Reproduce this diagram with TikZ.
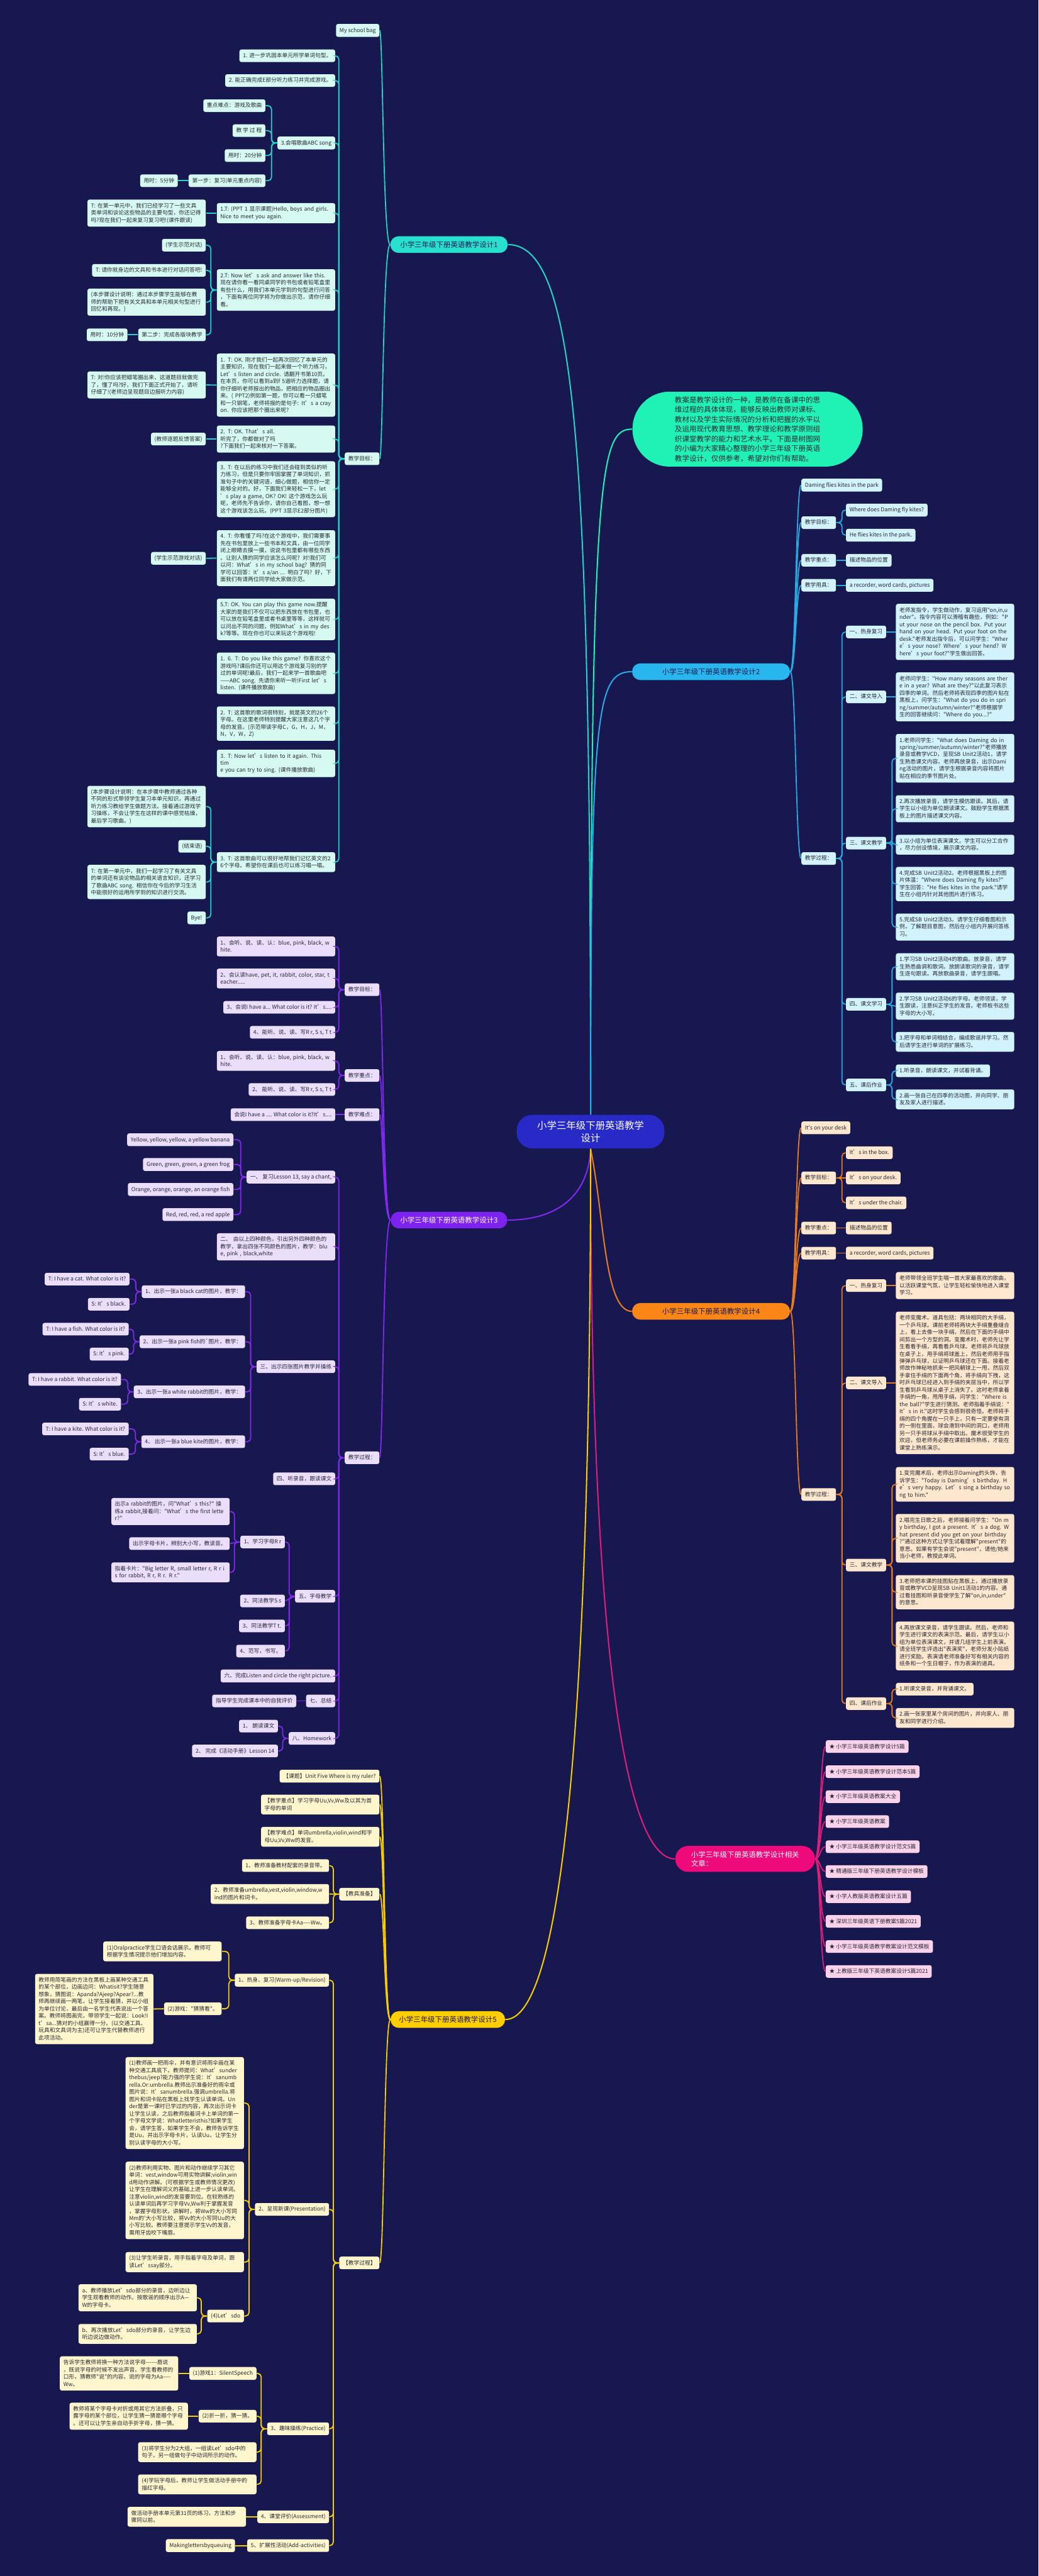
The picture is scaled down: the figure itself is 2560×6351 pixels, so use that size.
\documentclass[tikz,border=0pt]{standalone}
\usepackage{fontspec}
\newfontfamily\cjk{Noto Sans CJK SC}
\usetikzlibrary{positioning}
\definecolor{bgnavy}{RGB}{23,24,80}
\definecolor{rootblue}{RGB}{40,42,200}
\definecolor{txtdark}{RGB}{40,40,52}
\definecolor{tealnode}{RGB}{40,224,206}
\definecolor{tealleaf}{RGB}{214,250,242}
\definecolor{tealline}{RGB}{38,210,196}
\definecolor{mintnode}{RGB}{32,242,182}
\definecolor{bluenode}{RGB}{40,182,238}
\definecolor{blueleaf}{RGB}{210,243,252}
\definecolor{blueline}{RGB}{40,170,226}
\definecolor{purpnode}{RGB}{126,34,240}
\definecolor{purpleaf}{RGB}{234,222,252}
\definecolor{purpline}{RGB}{130,42,236}
\definecolor{orgnode}{RGB}{250,134,24}
\definecolor{orgleaf}{RGB}{253,231,206}
\definecolor{orgline}{RGB}{232,122,32}
\definecolor{pinknode}{RGB}{238,10,122}
\definecolor{pinkleaf}{RGB}{250,210,234}
\definecolor{pinkline}{RGB}{222,30,124}
\definecolor{ylwnode}{RGB}{255,206,0}
\definecolor{ylwleaf}{RGB}{255,246,206}
\definecolor{ylwline}{RGB}{246,206,0}
\newcommand\leaffont{\cjk\fontsize{3.85pt}{5.06pt}\selectfont}
\newcommand\branchfont{\cjk\fontsize{5.05pt}{6.3pt}\selectfont}
\newcommand\rootfont{\cjk\fontsize{6.8pt}{8.6pt}\selectfont}
\newcommand\introfont{\cjk\fontsize{5.1pt}{6.83pt}\selectfont}
\newcommand\lstrut{\rule[-0.74pt]{0pt}{4.1pt}}
\newcommand\elbowL[3]{\draw[#1] (#2.west) -- ++(-14,0) |- (#3.east);}
\newcommand\elbowR[3]{\draw[#1] (#2.east) -- ++(14,0) |- (#3.west);}
\newcommand\straightL[3]{\draw[#1] (#2.west) -- (#3.east);}
\newcommand\straightR[3]{\draw[#1] (#2.east) -- (#3.west);}
\newcommand\curveL[4]{\draw[#1] (#2.west) .. controls (#2.west -| #4) and (#3.east -| #4) .. (#3.east);}
\newcommand\curveR[4]{\draw[#1] (#2.east) .. controls (#2.east -| #4) and (#3.west -| #4) .. (#3.west);}
\tikzset{
  leaf/.style={rectangle, rounded corners=1.4pt, inner xsep=2.5pt, inner ysep=2.36pt,
               font=\leaffont, text=txtdark,
               execute at begin node=\lstrut, execute at end node=\lstrut},
  wide/.style={text width=2.74cm, align=left},
  lf1/.style={leaf, fill=tealleaf},
  lf2/.style={leaf, fill=blueleaf},
  lf3/.style={leaf, fill=purpleaf},
  lf4/.style={leaf, fill=orgleaf},
  lf5/.style={leaf, fill=ylwleaf},
  lf6/.style={leaf, fill=pinkleaf},
  wire/.style={line width=0.8pt, rounded corners=2.5pt},
  ln1/.style={wire, draw=tealline},
  ln2/.style={wire, draw=blueline},
  ln3/.style={wire, draw=purpline},
  ln4/.style={wire, draw=orgline},
  ln5/.style={wire, draw=ylwline},
  ln6/.style={wire, draw=pinkline},
  lnm/.style={wire, draw=mintnode},
  branch/.style={rectangle, rounded corners=5.7pt, minimum height=0.41cm,
                 inner sep=0pt, font=\branchfont},
  rootbox/.style={rectangle, rounded corners=11pt, fill=rootblue, text=white,
                  font=\rootfont, align=center, minimum width=3.64cm, minimum height=0.83cm},
  introbox/.style={rectangle, rounded corners=26pt, fill=mintnode, text=txtdark,
                   font=\introfont, align=left, minimum width=5.67cm, minimum height=1.83cm},
  pinkbox/.style={rectangle, rounded corners=9pt, fill=pinknode, text=white,
                  font=\branchfont, align=left, minimum width=3.44cm, minimum height=0.64cm},
}
\begin{document}
\begin{tikzpicture}[x=0.01cm, y=-0.01cm]
\fill[bgnavy] (0,0) rectangle (2560,6351);
\useasboundingbox (0,0) rectangle (2560,6351);
\coordinate (tl) at (944,0);
\coordinate (ty) at (947,0);
\coordinate (tr) at (1962,0);
\coordinate (tp) at (2022,0);

% root and main branches
\node[rootbox] (root) at (1456,2790) {小学三年级下册英语教学\\设计};
\node[introbox] (intro) at (1843,1058) {教案是教学设计的一种，是教师在备课中的思\\维过程的具体体现，能够反映出教师对课标、\\教材以及学生实际情况的分析和把握的水平以\\及运用现代教育思想、教学理论和教学原则组\\织课堂教学的能力和艺术水平。下面是树图网\\的小编为大家精心整理的小学三年级下册英语\\教学设计，仅供参考，希望对你们有帮助。};
\node[branch, fill=tealnode, text=bgnavy, minimum width=2.89cm] (b1) at (1107,603) {小学三年级下册英语教学设计1};
\node[branch, fill=bluenode, text=bgnavy, minimum width=3.89cm] (b2) at (1753,1656) {小学三年级下册英语教学设计2};
\node[branch, fill=purpnode, text=white, minimum width=2.87cm] (b3) at (1107,3008) {小学三年级下册英语教学设计3};
\node[branch, fill=orgnode, text=bgnavy, minimum width=3.89cm] (b4) at (1753,3233) {小学三年级下册英语教学设计4};
\node[branch, fill=ylwnode, text=bgnavy, minimum width=2.82cm] (b5) at (1104,4979) {小学三年级下册英语教学设计5};
\node[pinkbox] (pk) at (1837,4583) {小学三年级下册英语教学设计相关\\文章：};

\draw[ln1, line width=0.9pt] (root.north) .. controls (1456,1100) and (1420,603) .. (b1.east);
\draw[lnm, line width=0.9pt] (root.north) .. controls (1456,1150) and (1480,1058) .. (intro.west);
\draw[ln2, line width=0.9pt] (root.north) .. controls (1456,1750) and (1470,1656) .. (b2.west);
\draw[ln3, line width=0.9pt] (root.south) .. controls (1450,2960) and (1360,3008) .. (b3.east);
\draw[ln4, line width=0.9pt] (root.south) .. controls (1490,3000) and (1490,3233) .. (b4.west);
\draw[ln6, line width=0.9pt] (root.south) .. controls (1456,4200) and (1560,4583) .. (pk.west);
\draw[ln5, line width=0.9pt] (root.south) .. controls (1456,4300) and (1380,4979) .. (b5.east);

% branch 1
\node[lf1, anchor=east] (bag) at (936,75) {My school bag};
\node[lf1, anchor=east] (aim1) at (936,1131) {教学目标：};
\node[lf1, anchor=east] (g1) at (827,137.5) {1. 进一步巩固本单元所学单词句型。};
\node[lf1, anchor=east] (g2) at (827,198.5) {2. 能正确完成E部分听力练习并完成游戏。};
\node[lf1, anchor=east] (g3) at (827,352.5) {3.会唱歌曲ABC song};
\node[lf1, anchor=east] (g31) at (655,260.5) {重点难点：游戏及歌曲};
\node[lf1, anchor=east] (g32) at (655,322) {教 学 过 程};
\node[lf1, anchor=east] (g33) at (655,383.5) {用时：20分钟};
\node[lf1, anchor=east] (g34) at (655,445.5) {第一步：复习(单元重点内容)};
\node[lf1, anchor=east] (g341) at (439,445.5) {用时：5分钟};
\node[lf1, wide, anchor=east] (g4) at (827,525.5) {1.T: (PPT 1 显示课题)Hello, boys and girls.\\Nice to meet you again.};
\node[lf1, wide, anchor=east] (g41) at (508,525.5) {T: 在第一单元中，我们已经学习了一些文具\\类单词和谈论这些物品的主要句型，你还记得\\吗?现在我们一起来复习复习吧!(课件跟读)};
\node[lf1, wide, anchor=east] (g5) at (827,715) {2.T: Now let’s ask and answer like this.\\现在请你看一看同桌同学的书包或者铅笔盒里\\有些什么，用我们本单元学到的句型进行问答\\，下面有两位同学将为你做出示范，请你仔细\\看。};
\node[lf1, anchor=east] (g51) at (508,604.5) {(学生示范对话)};
\node[lf1, anchor=east] (g52) at (508,666.5) {T: 请你就身边的文具和书本进行对话问答吧!};
\node[lf1, wide, anchor=east] (g53) at (508,745) {(本步骤设计说明：通过本步骤学生能够在教\\师的帮助下把有关文具和本单元相关句型进行\\回忆和再现。)};
\node[lf1, anchor=east] (g54) at (508,825.5) {第二步：完成各版块教学};
\node[lf1, anchor=east] (g541) at (315,825.5) {用时：10分钟};
\node[lf1, wide, anchor=east] (g6) at (827,949.5) {1. T: OK. 刚才我们一起再次回忆了本单元的\\主要知识，现在我们一起来做一个听力练习，\\Let’s listen and circle. 请翻开书第10页。\\在本页，你可以看到a到f 5道听力选择题，请\\你仔细听老师报出的物品，把相应的物品圈出\\来。( PPT2)例如第一题，你可以看一只蜡笔\\和一只钢笔，老师将报的是句子: It’s a cray\\on. 你应该把那个圈出来呢?};
\node[lf1, wide, anchor=east] (g61) at (508,949) {T: 对!你应该把蜡笔圈出来，这道题目就做完\\了，懂了吗?好，我们下面正式开始了，请听\\仔细了!(老师边呈现题目边报听力内容)};
\node[lf1, wide, anchor=east] (g7) at (827,1082.5) {2. T: OK. That’s all. 听完了，你都做对了吗\\?下面我们一起来核对一下答案。};
\node[lf1, anchor=east] (g71) at (508,1082.5) {(教师逐题反馈答案)};
\node[lf1, wide, anchor=east] (g8) at (827,1206) {3. T: 在以后的练习中我们还会碰到类似的听\\力练习，但是只要你牢固掌握了单词知识，抓\\准句子中的关键词语，细心做题，相信你一定\\能够全对的。好，下面我们来轻松一下，let\\’s play a game, OK? OK! 这个游戏怎么玩\\呢，老师先不告诉你，请你自己看图，想一想\\这个游戏该怎么玩。(PPT 3显示E2部分图片)};
\node[lf1, wide, anchor=east] (g9) at (827,1376) {4. T: 你看懂了吗?在这个游戏中，我们需要事\\先在书包里放上一些书本和文具，由一位同学\\闭上眼睛去摸一摸，说说书包里都有哪些东西\\。让别人猜的同学应该怎么问呢? 对!我们可\\以问：What’s in my school bag? 猜的同\\学可以回答：It’s a/an ... 明白了吗? 好，下\\面我们有请两位同学给大家做示范。};
\node[lf1, anchor=east] (g91) at (508,1376.5) {(学生示范游戏对话)};
\node[lf1, wide, anchor=east] (g10) at (827,1527) {5.T: OK. You can play this game now.提醒\\大家的是我们不仅可以把东西放在书包里，也\\可以放在铅笔盒里或者书桌里等等，这样就可\\以问出不同的问题，例如What’s in my des\\k?等等。现在你也可以来玩这个游戏啦!};
\node[lf1, wide, anchor=east] (g11) at (827,1660) {1. 6. T: Do you like this game? 你喜欢这个\\游戏吗?课后你还可以用这个游戏复习别的学\\过的单词呢!最后，我们一起来学一首歌曲吧\\——ABC song. 先请你来听一听!First let’s\\listen. (课件播放歌曲)};
\node[lf1, wide, anchor=east] (g12) at (827,1784) {2. T: 这首歌的歌词很特别，就是英文的26个\\字母。在这里老师特别提醒大家注意这几个字\\母的发音。(示范带读字母C，G，H，J，M，\\ N，V，W，Z)};
\node[lf1, wide, anchor=east] (g13) at (827,1882) {3. T: Now let’s listen to it again. This tim\\e you can try to sing. (课件播放歌曲)};
\node[lf1, wide, anchor=east] (g14) at (827,2125.5) {3. T: 这首歌曲可以很好地帮我们记忆英文的2\\6个字母。希望你在课后也可以练习唱一唱。};
\node[lf1, wide, anchor=east] (g141) at (508,1988.5) {(本步骤设计说明：在本步骤中教师通过各种\\不同的形式带领学生复习本单元知识，再通过\\听力练习教给学生做题方法。接着通过游戏学\\习操练，不会让学生在这样的课中感觉枯燥，\\最后学习歌曲。)};
\node[lf1, anchor=east] (g142) at (508,2086.5) {(结束语)};
\node[lf1, wide, anchor=east] (g143) at (508,2174.5) {T: 在第一单元中，我们一起学习了有关文具\\的单词还有谈论物品的相关语言知识，还学习\\了歌曲ABC song. 相信你在今后的学习生活\\中能很好的运用所学到的知识进行交流。};
\node[lf1, anchor=east] (g144) at (508,2263) {Bye!};

\curveL{ln1}{b1}{bag}{tl}
\curveL{ln1}{b1}{aim1}{tl}
\foreach \c in {g1,g2,g3,g4,g5,g6,g7,g8,g9,g10,g11,g12,g13,g14} {\elbowL{ln1}{aim1}{\c}}
\foreach \c in {g31,g32,g33,g34} {\elbowL{ln1}{g3}{\c}}
\straightL{ln1}{g34}{g341}
\straightL{ln1}{g4}{g41}
\foreach \c in {g51,g52,g53,g54} {\elbowL{ln1}{g5}{\c}}
\straightL{ln1}{g54}{g541}
\straightL{ln1}{g6}{g61}
\straightL{ln1}{g7}{g71}
\straightL{ln1}{g9}{g91}
\foreach \c in {g141,g142,g143,g144} {\elbowL{ln1}{g14}{\c}}

% branch 3
\node[lf3, anchor=east] (aim3) at (936,2440) {教学目标：};
\node[lf3, wide, anchor=east] (p1) at (827,2333.5) {1、会听、说、读、认：blue, pink, black, w\\hite.};
\node[lf3, wide, anchor=east] (p2) at (827,2412.5) {2、会认读have, pet, it, rabbit, color, star, t\\eacher.....};
\node[lf3, anchor=east] (p3) at (827,2483.5) {3、会说I have a... What color is it? It’s....};
\node[lf3, anchor=east] (p4) at (827,2545) {4、能听、说、读、写R r, S s, T t};
\node[lf3, anchor=east] (key3) at (936,2651.5) {教学重点：};
\node[lf3, wide, anchor=east] (k1) at (827,2615.5) {1、会听、说、读、认：blue, pink, black, w\\hite.};
\node[lf3, anchor=east] (k2) at (827,2686) {2、 能听、说、读、写R r, S s, T t};
\node[lf3, anchor=east] (hard3) at (936,2748) {教学难点：};
\node[lf3, anchor=east] (h1) at (827,2748) {会说I have a .... What color is it?It’s....};
\node[lf3, anchor=east] (proc3) at (936,3594) {教学过程：};
\node[lf3, anchor=east] (s1) at (827,2902) {一、 复习Lesson 13, say a chant,};
\node[lf3, anchor=east] (s11) at (576,2810) {Yellow, yellow, yellow, a yellow banana};
\node[lf3, anchor=east] (s12) at (576,2871) {Green, green, green, a green frog};
\node[lf3, anchor=east] (s13) at (576,2932.5) {Orange, orange, orange, an orange fish};
\node[lf3, anchor=east] (s14) at (576,2994.5) {Red, red, red, a red apple};
\node[lf3, wide, anchor=east] (s2) at (827,3074) {二、 由以上四种颜色，引出另外四种颜色的\\教学，拿出四张不同颜色的图片，教学：blu\\e, pink , black,white};
\node[lf3, anchor=east] (s3) at (827,3369.5) {三、出示四张图片教学并操练};
\node[lf3, anchor=east] (s31) at (605,3184.5) {1、出示一张a black cat的图片，教学：};
\node[lf3, anchor=east] (s311) at (320,3153.5) {T: I have a cat. What color is it?};
\node[lf3, anchor=east] (s312) at (320,3215.5) {S: It’s black.};
\node[lf3, anchor=east] (s32) at (605,3308) {2、出示一张a pink fish的`图片，教学：};
\node[lf3, anchor=east] (s321) at (318,3277) {T: I have a fish. What color is it?};
\node[lf3, anchor=east] (s322) at (318,3338.5) {S: It’s pink.};
\node[lf3, anchor=east] (s33) at (605,3431.5) {3、出示一张a white rabbit的图片，教学：};
\node[lf3, anchor=east] (s331) at (299,3401) {T: I have a rabbit. What color is it?};
\node[lf3, anchor=east] (s332) at (299,3462) {S: It’s white.};
\node[lf3, anchor=east] (s34) at (605,3554.5) {4、 出示一张a blue kite的图片，教学：};
\node[lf3, anchor=east] (s341) at (318,3523) {T: I have a kite. What color is it?};
\node[lf3, anchor=east] (s342) at (318,3585) {S: It’s blue.};
\node[lf3, anchor=east] (s4) at (827,3646) {四、听录音，跟读课文};
\node[lf3, anchor=east] (s5) at (827,3935.5) {五、字母教学};
\node[lf3, anchor=east] (s51) at (703,3801.5) {1、学习字母R r};
\node[lf3, wide, anchor=east] (s511) at (567,3726.5) {出示a rabbit的图片，问"What’s this?" 操\\练a rabbit,接着问："What’s the first lette\\r?"};
\node[lf3, anchor=east] (s512) at (567,3805.5) {出示字母卡片，辨别大小写，教读音。};
\node[lf3, wide, anchor=east] (s513) at (567,3876.5) {指着卡片："Big letter R, small letter r, R r i\\s for rabbit, R r, R r. R r."};
\node[lf3, anchor=east] (s52) at (703,3947) {2、同法教学S s};
\node[lf3, anchor=east] (s53) at (703,4008.5) {3、同法教学T t.};
\node[lf3, anchor=east] (s54) at (703,4070.5) {4、范写，书写。};
\node[lf3, anchor=east] (s6) at (827,4132) {六、完成Listen and circle the right picture.};
\node[lf3, anchor=east] (s7) at (827,4193.5) {七、总结};
\node[lf3, anchor=east] (s71) at (731,4193.5) {指导学生完成课本中的自我评价};
\node[lf3, anchor=east] (s8) at (827,4286) {八、Homework};
\node[lf3, anchor=east] (s81) at (686,4255.5) {1、 朗读课文};
\node[lf3, anchor=east] (s82) at (686,4317) {2、 完成《活动手册》Lesson 14};

\foreach \c in {aim3,key3,hard3,proc3} {\curveL{ln3}{b3}{\c}{tl}}
\foreach \c in {p1,p2,p3,p4} {\elbowL{ln3}{aim3}{\c}}
\foreach \c in {k1,k2} {\elbowL{ln3}{key3}{\c}}
\straightL{ln3}{hard3}{h1}
\foreach \c in {s1,s2,s3,s4,s5,s6,s7,s8} {\elbowL{ln3}{proc3}{\c}}
\foreach \c in {s11,s12,s13,s14} {\elbowL{ln3}{s1}{\c}}
\foreach \c in {s31,s32,s33,s34} {\elbowL{ln3}{s3}{\c}}
\foreach \c in {s311,s312} {\elbowL{ln3}{s31}{\c}}
\foreach \c in {s321,s322} {\elbowL{ln3}{s32}{\c}}
\foreach \c in {s331,s332} {\elbowL{ln3}{s33}{\c}}
\foreach \c in {s341,s342} {\elbowL{ln3}{s34}{\c}}
\foreach \c in {s51,s53,s54} {\elbowL{ln3}{s5}{\c}}
\straightL{ln3}{s5}{s52}
\foreach \c in {s511,s513} {\elbowL{ln3}{s51}{\c}}
\straightL{ln3}{s51}{s512}
\straightL{ln3}{s7}{s71}
\foreach \c in {s81,s82} {\elbowL{ln3}{s8}{\c}}

% branch 5
\node[lf5, anchor=east] (y1) at (936,4379) {【课题】Unit Five Where is my ruler?};
\node[lf5, wide, anchor=east] (y2) at (936,4449) {【教学重点】学习字母Uu,Vv,Ww及以其为首\\字母的单词};
\node[lf5, wide, anchor=east] (y3) at (936,4528.5) {【教学难点】单词umbrella,violin,wind和字\\母Uu,Vv,Ww的发音。};
\node[lf5, anchor=east] (y4) at (936,4670) {【教具准备】};
\node[lf5, anchor=east] (y41) at (812,4599.5) {1、教师准备教材配套的录音带。};
\node[lf5, wide, anchor=east] (y42) at (812,4669.5) {2、教师准备umbrella,vest,violin,window,w\\ind的图片和词卡。};
\node[lf5, anchor=east] (y43) at (812,4740.5) {3、教师准备字母卡Aa----Ww。};
\node[lf5, anchor=east] (y5) at (936,5579) {【教学过程】};
\node[lf5, anchor=east] (w1) at (812,4882) {1、热身、复习(Warm-up/Revision)};
\node[lf5, wide, anchor=east] (w11) at (547,4811) {(1)Oralpractice学生口语会话展示。教师可\\根据学生情况提示他们增加内容。};
\node[lf5, anchor=east] (w12) at (547,4952.5) {(2)游戏："猜猜看"。};
\node[lf5, wide, anchor=east] (w121) at (379,4953) {教师用简笔画的方法在黑板上画某种交通工具\\的某个部位，边画边问：Whatisit?学生随意\\想象，猜图说：Apanda?Ajeep?Apear?...教\\师再继续画一两笔，让学生接着猜，并以小组\\为单位讨论，最后由一名学生代表说出一个答\\案。教师将图画完，带领学生一起说：Look!I\\t’sa...猜对的小组赢得一分。(以交通工具、\\玩具和文具词为主)还可让学生代替教师进行\\此项活动。};
\node[lf5, anchor=east] (w2) at (812,5447) {2、呈现新课(Presentation)};
\node[lf5, wide, anchor=east] (w21) at (602,5185) {(1)教师画一把雨伞，并有意识将雨伞画在某\\种交通工具底下。教师提问：What’sunder\\thebus/jeep?能力强的学生说：It’sanumb\\rella.Or:umbrella.教师出示准备好的雨伞或\\图片说：It’sanumbrella.强调umbrella.将\\图片和词卡贴在黑板上找学生认读单词。Un\\der是第一课时已学过的内容，再次出示词卡\\让学生认读，之后教师指着词卡上单词的第一\\个字母文学说：Whatletteristhis?如果学生\\会，请学生答，如果学生不会，教师告诉学生\\是Uu，并出示字母卡片，认读Uu。让学生分\\别认读字母的大小写。};
\node[lf5, wide, anchor=east] (w22) at (602,5425) {(2)教师利用实物、图片和动作继续学习其它\\单词：vest,window可用实物讲解;violin,win\\d用动作讲解。(可根据学生或教师情况更改)\\让学生在理解词义的基础上进一步认读单词。\\注意violin,wind的发音要到位。在较熟练的\\认读单词后再学习字母Vv,Ww利于掌握发音\\，掌握字母形状。讲解时，将Ww的大小写同\\Mm的'大小写比较，将Vv的大小写同Uu的大\\小写比较。教师要注意提示学生Vv的发音，\\需用牙齿咬下嘴唇。};
\node[lf5, wide, anchor=east] (w23) at (602,5577) {(3)让学生听录音，用手指着字母及单词，跟\\读Let’ssay部分。};
\node[lf5, anchor=east] (w24) at (602,5710) {(4)Let’sdo};
\node[lf5, wide, anchor=east] (w241) at (486,5665) {a、教师播放Let’sdo部分的录音，边听边让\\学生观看教师的动作。按歌谣的顺序出示A—\\W的字母卡。};
\node[lf5, wide, anchor=east] (w242) at (486,5754) {b、再次播放Let’sdo部分的录音，让学生边\\听边说边做动作。};
\node[lf5, anchor=east] (w3) at (812,5988) {3、趣味操练(Practice)};
\node[lf5, anchor=east] (w31) at (633,5851.5) {(1)游戏1：SilentSpeech};
\node[lf5, wide, anchor=east] (w311) at (440,5851.5) {告诉学生教师将换一种方法说字母------唇说\\，既说字母的时候不发出声音。学生看教师的\\口形，猜教师"说"的内容。说的字母为Aa----\\Ww。};
\node[lf5, anchor=east] (w32) at (633,5957) {(2)折一折，猜一猜。};
\node[lf5, wide, anchor=east] (w321) at (464,5957) {教师将某个字母卡对折或用其它方法折叠，只\\露字母的某个部位，让学生猜一猜是哪个字母\\。还可以让学生亲自动手折字母，猜一猜。};
\node[lf5, wide, anchor=east] (w33) at (633,6045.5) {(3)将学生分为2大组，一组读Let’sdo中的\\句子，另一组做句子中动词所示的动作。};
\node[lf5, wide, anchor=east] (w34) at (633,6125) {(4)学玩字母后，教师让学生做活动手册中的\\描红字母。};
\node[lf5, anchor=east] (w4) at (812,6205) {4、课堂评价(Assessment)};
\node[lf5, wide, anchor=east] (w41) at (607,6205) {做活动手册本单元第31页的练习，方法和步\\骤同以前。};
\node[lf5, anchor=east] (w5) at (812,6276) {5、扩展性活动(Add-activities)};
\node[lf5, anchor=east] (w51) at (580,6276) {Makinglettersbyqueuing};

\foreach \c in {y1,y2,y3,y4,y5} {\curveL{ln5}{b5}{\c}{ty}}
\foreach \c in {y41,y43} {\elbowL{ln5}{y4}{\c}}
\straightL{ln5}{y4}{y42}
\foreach \c in {w1,w2,w3,w4,w5} {\elbowL{ln5}{y5}{\c}}
\foreach \c in {w11,w12} {\elbowL{ln5}{w1}{\c}}
\straightL{ln5}{w12}{w121}
\foreach \c in {w21,w22,w23,w24} {\elbowL{ln5}{w2}{\c}}
\foreach \c in {w241,w242} {\elbowL{ln5}{w24}{\c}}
\foreach \c in {w31,w32,w33,w34} {\elbowL{ln5}{w3}{\c}}
\straightL{ln5}{w31}{w311}
\straightL{ln5}{w32}{w321}
\straightL{ln5}{w4}{w41}
\straightL{ln5}{w5}{w51}

% branch 2
\node[lf2, anchor=west] (r1) at (1975,1196) {Daming flies kites in the park};
\node[lf2, anchor=west] (r2) at (1975,1288.5) {教学目标：};
\node[lf2, anchor=west] (r21) at (2085,1257.5) {Where does Daming fly kites?};
\node[lf2, anchor=west] (r22) at (2085,1319.5) {He flies kites in the park.};
\node[lf2, anchor=west] (r3) at (1975,1381.5) {教学重点：};
\node[lf2, anchor=west] (r31) at (2085,1381.5) {描述物品的位置};
\node[lf2, anchor=west] (r4) at (1975,1443) {教学用具：};
\node[lf2, anchor=west] (r41) at (2085,1443) {a recorder, word cards, pictures};
\node[lf2, anchor=west] (r5) at (1975,2116.5) {教学过程：};
\node[lf2, anchor=west] (q1) at (2085,1558) {一、热身复习};
\node[lf2, wide, anchor=west] (q11) at (2208,1558) {老师发指令，学生做动作，复习运用"on,in,u\\nder"。指令内容可以滑稽有趣些，例如："P\\ut your nose on the pencil box. Put your\\hand on your head. Put your foot on the\\desk."老师发出指令后，可以问学生："Wher\\e’s your nose? Where’s your hend? W\\here’s your foot?"学生做出回答。};
\node[lf2, anchor=west] (q2) at (2085,1718) {二、课文导入};
\node[lf2, wide, anchor=west] (q21) at (2208,1718) {老师问学生："How many seasons are ther\\e in a year? What are they?"以此复习表示\\四季的单词。然后老师将表现四季的图片贴在\\黑板上，问学生："What do you do in spri\\ng/summer/autumn/winter?"老师根据学\\生的回答继续问："Where do you...?"};
\node[lf2, anchor=west] (q3) at (2085,2078.5) {三、课文教学};
\node[lf2, wide, anchor=west] (q31) at (2208,1869.5) {1.老师问学生："What does Daming do in\\spring/summer/autumn/winter?"老师播放\\录音或教学VCD，呈现SB Unit2活动1，请学\\生熟悉课文内容。老师再放录音，出示Dami\\ng活动的图片，请学生根据录音内容将图片\\贴在相应的季节图片处。};
\node[lf2, wide, anchor=west] (q32) at (2208,1994) {2.再次播放录音，请学生模仿跟读。其后，请\\学生以小组为单位朗读课文。鼓励学生根据黑\\板上的图片描述课文内容。};
\node[lf2, wide, anchor=west] (q33) at (2208,2082.5) {3.以小组为单位表演课文。学生可以分工合作\\，尽力创设情境，展示课文内容。};
\node[lf2, wide, anchor=west] (q34) at (2208,2179.5) {4.完成SB Unit2活动2。老师根据黑板上的图\\片体温："Where does Daming fly kites?"\\学生回答："He flies kites in the park."请学\\生在小组内针对其他图片进行练习。};
\node[lf2, wide, anchor=west] (q35) at (2208,2285.5) {5.完成SB Unit2活动3。请学生仔细看图和示\\例，了解题目意图，然后在小组内开展问答练\\习。};
\node[lf2, anchor=west] (q4) at (2085,2476) {四、课文学习};
\node[lf2, wide, anchor=west] (q41) at (2208,2383.5) {1.学习SB Unit2活动4的歌曲。放录音，请学\\生熟悉曲调和歌词。放朗读歌词的录音，请学\\生逐句跟读。再放歌曲录音，请学生跟唱。};
\node[lf2, wide, anchor=west] (q42) at (2208,2480.5) {2.学习SB Unit2活动6的字母。老师领读，学\\生跟读，注意纠正学生的发音。老师板书这些\\字母的大小写。};
\node[lf2, wide, anchor=west] (q43) at (2208,2568.5) {3.把字母和单词相结合，编成歌谣并学习。然\\后请学生进行单词的扩展练习。};
\node[lf2, anchor=west] (q5) at (2085,2675) {五、课后作业};
\node[lf2, anchor=west] (q51) at (2208,2640) {1.听录音，朗读课文，并试着背诵。};
\node[lf2, wide, anchor=west] (q52) at (2208,2710.5) {2.画一张自己在四季的活动图，并向同学、朋\\友及家人进行描述。};

\foreach \c in {r1,r2,r3,r4,r5} {\curveR{ln2}{b2}{\c}{tr}}
\foreach \c in {r21,r22} {\elbowR{ln2}{r2}{\c}}
\straightR{ln2}{r3}{r31}
\straightR{ln2}{r4}{r41}
\foreach \c in {q1,q2,q3,q4,q5} {\elbowR{ln2}{r5}{\c}}
\straightR{ln2}{q1}{q11}
\straightR{ln2}{q2}{q21}
\foreach \c in {q31,q32,q33,q34,q35} {\elbowR{ln2}{q3}{\c}}
\foreach \c in {q41,q43} {\elbowR{ln2}{q4}{\c}}
\straightR{ln2}{q4}{q42}
\foreach \c in {q51,q52} {\elbowR{ln2}{q5}{\c}}

% branch 4
\node[lf4, anchor=west] (o1) at (1975,2780.5) {It's on your desk};
\node[lf4, anchor=west] (o2) at (1975,2904) {教学目标：};
\node[lf4, anchor=west] (o21) at (2085,2842) {It’s in the box.};
\node[lf4, anchor=west] (o22) at (2085,2904) {It’s on your desk.};
\node[lf4, anchor=west] (o23) at (2085,2965.5) {It’s under the chair.};
\node[lf4, anchor=west] (o3) at (1975,3027.5) {教学重点：};
\node[lf4, anchor=west] (o31) at (2085,3027.5) {描述物品的位置};
\node[lf4, anchor=west] (o4) at (1975,3089.5) {教学用具：};
\node[lf4, anchor=west] (o41) at (2085,3089.5) {a recorder, word cards, pictures};
\node[lf4, anchor=west] (o5) at (1975,3684.5) {教学过程：};
\node[lf4, anchor=west] (v1) at (2085,3169.5) {一、热身复习};
\node[lf4, wide, anchor=west] (v11) at (2208,3169.5) {老师带领全班学生唱一首大家最喜欢的歌曲，\\以活跃课堂气氛，让学生轻松愉快地进入课堂\\学习。};
\node[lf4, anchor=west] (v2) at (2085,3409.5) {二、课文导入};
\node[lf4, wide, anchor=west] (v21) at (2208,3409.5) {老师变魔术。道具包括：两块相同的大手绢，\\一个乒乓球。课前老师将两块大手绢重叠缝合\\上，看上去像一块手绢，然后在下面的手绢中\\间剪出一个方型的洞。变魔术时，老师先让学\\生看看手绢，再看看乒乓球。老师将乒乓球放\\在桌子上，用手绢将球盖上，然后老师用手指\\弹弹乒乓球，以证明乒乓球还在下面。接着老\\师故作神秘地抓来一把风朝球上一甩，然后双\\手拿住手绢的下面两个角，将手绢向下拽，这\\时乒乓球已经进入到手绢的夹层当中，所以学\\生看到乒乓球从桌子上消失了。这时老师拿着\\手绢的一角，甩甩手绢，问学生："Where is\\the ball?"学生进行猜测。老师指着手绢说："\\It’s in it."这时学生会感到很奇怪。老师将手\\绢的四个角握在一只手上，只有一定要使有洞\\的一侧在里面，球会滑到中间的洞口，老师用\\另一只手将球从手绢中取出。魔术很受学生的\\欢迎，但老师务必要在课前操作熟练，才能在\\课堂上熟练演示。};
\node[lf4, anchor=west] (v3) at (2085,3858.5) {三、课文教学};
\node[lf4, wide, anchor=west] (v31) at (2208,3659.5) {1.变完魔术后，老师出示Daming的头饰，告\\诉学生："Today is Daming’s birthday. H\\e’s very happy. Let’s sing a birthday so\\ng to him."};
\node[lf4, wide, anchor=west] (v32) at (2208,3792.5) {2.唱完生日歌之后，老师接着问学生："On m\\y birthday, I got a present. It’s a dog. W\\hat present did you get on your birthday\\?"通过这种方式让学生试着理解"present"的\\意思。如果有学生会说"present"，请他/她来\\当小老师，教授此单词。};
\node[lf4, wide, anchor=west] (v33) at (2208,3925.5) {3.老师把本课的挂图贴在黑板上，通过播放录\\音或教学VCD呈现SB Unit1活动1的内容。通\\过看挂图和听录音使学生了解"on,in,under"\\的意思。};
\node[lf4, wide, anchor=west] (v34) at (2208,4058) {4.再放课文录音，请学生跟读。然后，老师和\\学生进行课文的表演示范。最后，请学生以小\\组为单位表演课文，并请几组学生上前表演。\\请全班学生评选出"表演奖"，老师分发小贴纸\\进行奖励。表演请老师准备好写有相关内容的\\纸条和一个生日帽子，作为表演的道具。};
\node[lf4, anchor=west] (v4) at (2085,4200) {四、课后作业};
\node[lf4, anchor=west] (v41) at (2208,4164.5) {1.听课文录音，并背诵课文。};
\node[lf4, wide, anchor=west] (v42) at (2208,4235.5) {2.画一张家里某个房间的图片，并向家人、朋\\友和同学进行介绍。};

\foreach \c in {o1,o2,o3,o4,o5} {\curveR{ln4}{b4}{\c}{tr}}
\foreach \c in {o21,o23} {\elbowR{ln4}{o2}{\c}}
\straightR{ln4}{o2}{o22}
\straightR{ln4}{o3}{o31}
\straightR{ln4}{o4}{o41}
\foreach \c in {v1,v2,v3,v4} {\elbowR{ln4}{o5}{\c}}
\straightR{ln4}{v1}{v11}
\straightR{ln4}{v2}{v21}
\foreach \c in {v31,v32,v33,v34} {\elbowR{ln4}{v3}{\c}}
\foreach \c in {v41,v42} {\elbowR{ln4}{v4}{\c}}

% related articles
\node[lf6, anchor=west] (a1) at (2035,4306) {★ 小学三年级英语教学设计5篇};
\node[lf6, anchor=west] (a2) at (2035,4368) {★ 小学三年级英语教学设计范本5篇};
\node[lf6, anchor=west] (a3) at (2035,4429.5) {★ 小学三年级英语教案大全};
\node[lf6, anchor=west] (a4) at (2035,4491) {★ 小学三年级英语教案};
\node[lf6, anchor=west] (a5) at (2035,4553) {★ 小学三年级英语教学设计范文5篇};
\node[lf6, anchor=west] (a6) at (2035,4614) {★ 精通版三年级下册英语教学设计模板};
\node[lf6, anchor=west] (a7) at (2035,4676) {★ 小学人教版英语教案设计五篇};
\node[lf6, anchor=west] (a8) at (2035,4737) {★ 深圳三年级英语下册教案5篇2021};
\node[lf6, anchor=west] (a9) at (2035,4799) {★ 小学三年级英语教学教案设计范文模板};
\node[lf6, anchor=west] (a10) at (2035,4860.5) {★ 上教版三年级下英语教案设计5篇2021};
\foreach \c in {a1,a2,a3,a4,a5,a6,a7,a8,a9,a10} {\curveR{ln6}{pk}{\c}{tp}}
\end{tikzpicture}
\end{document}
